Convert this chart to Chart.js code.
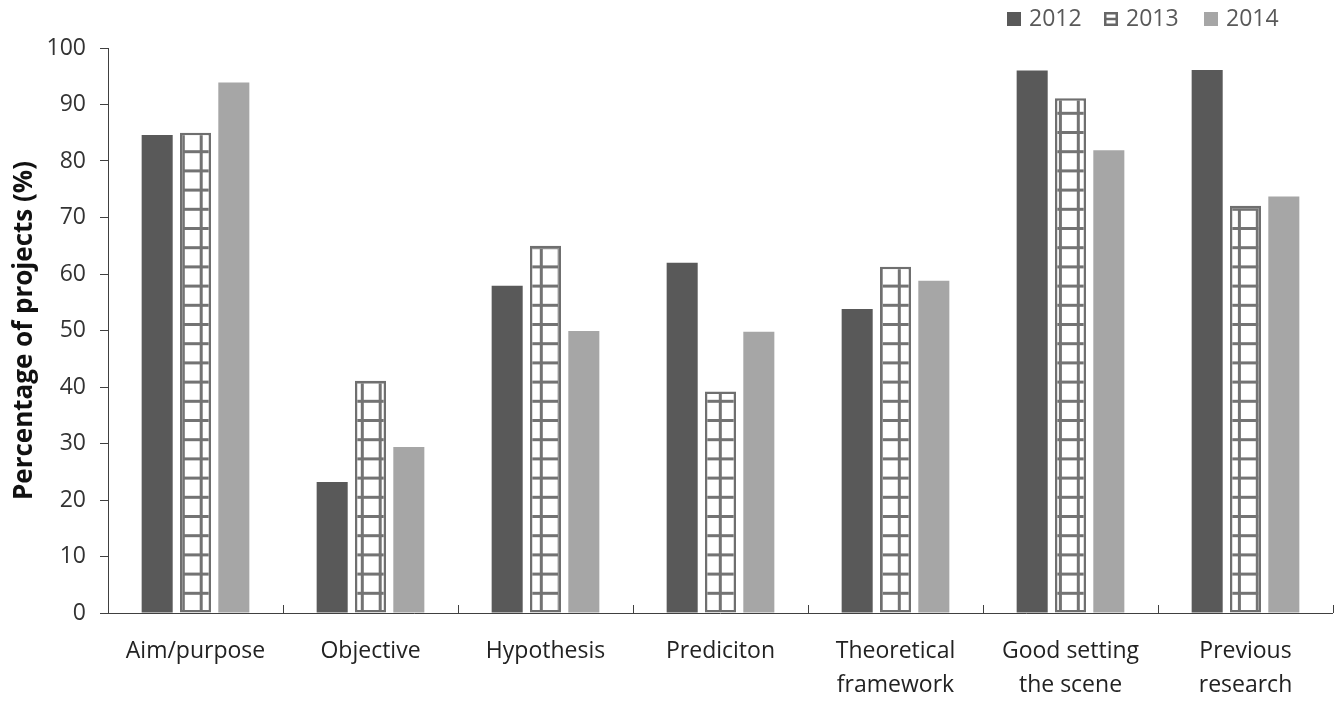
<!DOCTYPE html>
<html>
<head>
<meta charset="utf-8">
<script src="https://cdn.jsdelivr.net/npm/chart.js@4.4.1/dist/chart.umd.min.js"></script>
<style>
  html, body { margin: 0; padding: 0; background: #fff; }
  #wrap { position: relative; width: 1341px; height: 702px; }
</style>
</head>
<body>
<div id="wrap"><canvas id="c" width="1341" height="702"></canvas></div>
<script>
const categories = ["Aim/purpose", "Objective", "Hypothesis", "Prediciton", ["Theoretical", "framework"], ["Good setting", "the scene"], ["Previous", "research"]];
const seriesNames = ["2012", "2013", "2014"];
const values2012 = [84.6, 23.2, 57.9, 62.0, 53.8, 96.0, 96.1];
const values2013 = [85.0, 41.1, 65.0, 39.2, 61.3, 91.1, 72.1];
const values2014 = [93.9, 29.4, 49.9, 49.8, 58.8, 81.9, 73.7];
const yTicks = [0, 10, 20, 30, 40, 50, 60, 70, 80, 90, 100];

const FONT = "'Open Sans', 'DejaVu Sans', sans-serif";
const canvas = document.getElementById('c');
const ctx = canvas.getContext('2d');

function makeGridPattern() {
  const c = document.createElement('canvas');
  c.width = 179; c.height = 192;
  const g = c.getContext('2d');
  g.fillStyle = '#ffffff'; g.fillRect(0, 0, 179, 192);
  g.fillStyle = '#737373';
  for (let k = 0; k < 10; k++) { const x = 4.3 + 17.9 * k; g.fillRect(x - 1.5, 0, 3, 192); }
  for (let k = 0; k < 10; k++) { const y = 17.3 + 19.2 * k; g.fillRect(0, y - 1.5, 179, 3); }
  return ctx.createPattern(c, 'repeat');
}
const gridPattern = makeGridPattern();

function drawIcon(g, kind, x, y, s) {
  if (kind === 0) { g.fillStyle = '#595959'; g.fillRect(x, y, s, s); }
  else if (kind === 2) { g.fillStyle = '#a6a6a6'; g.fillRect(x, y, s, s); }
  else {
    g.fillStyle = '#fff'; g.fillRect(x, y, s, s);
    g.strokeStyle = '#666'; g.lineWidth = 2.5;
    g.strokeRect(x + 1.25, y + 1.25, s - 2.5, s - 2.5);
    g.beginPath(); g.moveTo(x + 1, y + s / 2); g.lineTo(x + s - 1, y + s / 2); g.stroke();
  }
}

const customLegend = {
  id: 'customLegend',
  afterDraw(chart) {
    const g = chart.ctx;
    const boxX = [1007, 1104, 1204];
    g.save();
    g.font = "23px " + FONT;
    g.textBaseline = 'middle';
    g.textAlign = 'left';
    chart.data.datasets.forEach((d, i) => {
      drawIcon(g, i, boxX[i], 12, 14);
      g.fillStyle = '#595959';
      g.fillText(d.label, boxX[i] + 22, 19);
    });
    g.restore();
  }
};

const innerTicks = {
  id: 'innerTicks',
  afterDatasetsDraw(chart) {
    const x = chart.scales.x, y = chart.scales.y;
    const g = chart.ctx;
    g.save();
    g.strokeStyle = '#404040'; g.lineWidth = 1;
    const yb = y.getPixelForValue(0);
    for (let i = 0; i <= categories.length; i++) {
      const px = Math.round(x.getPixelForValue(i - 0.5)) + 0.5;
      g.beginPath(); g.moveTo(px, yb); g.lineTo(px, yb - 8); g.stroke();
    }
    g.beginPath(); g.moveTo(x.left, Math.round(yb) + 0.5); g.lineTo(x.right, Math.round(yb) + 0.5); g.stroke();
    g.restore();
  }
};

new Chart(ctx, {
  type: 'bar',
  data: {
    labels: categories,
    datasets: [
      { label: seriesNames[0], data: values2012, backgroundColor: '#595959', borderWidth: 0 },
      { label: seriesNames[1], data: values2013, backgroundColor: gridPattern, borderColor: '#6f6f6f', borderWidth: 2.5, borderSkipped: false },
      { label: seriesNames[2], data: values2014, backgroundColor: '#a6a6a6', borderWidth: 0 }
    ]
  },
  options: {
    responsive: false,
    animation: false,
    devicePixelRatio: 1,
    layout: { padding: { left: 0, right: 8, top: 48, bottom: 0 } },
    datasets: { bar: { categoryPercentage: 0.657, barPercentage: 0.81 } },
    plugins: {
      legend: { display: false },
      tooltip: { enabled: false }
    },
    scales: {
      x: {
        grid: { display: false, drawTicks: false },
        border: { display: false },
        ticks: { font: { family: FONT, size: 23, lineHeight: 1.48 }, color: '#222', padding: 21, maxRotation: 0, autoSkip: false },
        afterFit(s) { s.height = 89; }
      },
      y: {
        min: 0, max: 100,
        afterBuildTicks(s) { s.ticks = yTicks.map(v => ({ value: v })); },
        grid: { drawOnChartArea: false, drawTicks: true, tickLength: 8, color: '#404040' },
        border: { display: true, color: '#404040', width: 1 },
        ticks: { font: { family: FONT, size: 23 }, color: '#333', padding: 14 },
        title: { display: true, text: 'Percentage of projects (%)', font: { family: FONT, size: 26, weight: 'bold' }, color: '#111', padding: { top: 9, bottom: 0 } },
        afterFit(s) { s.width = 108; }
      }
    }
  },
  plugins: [innerTicks, customLegend]
});
</script>
</body>
</html>
